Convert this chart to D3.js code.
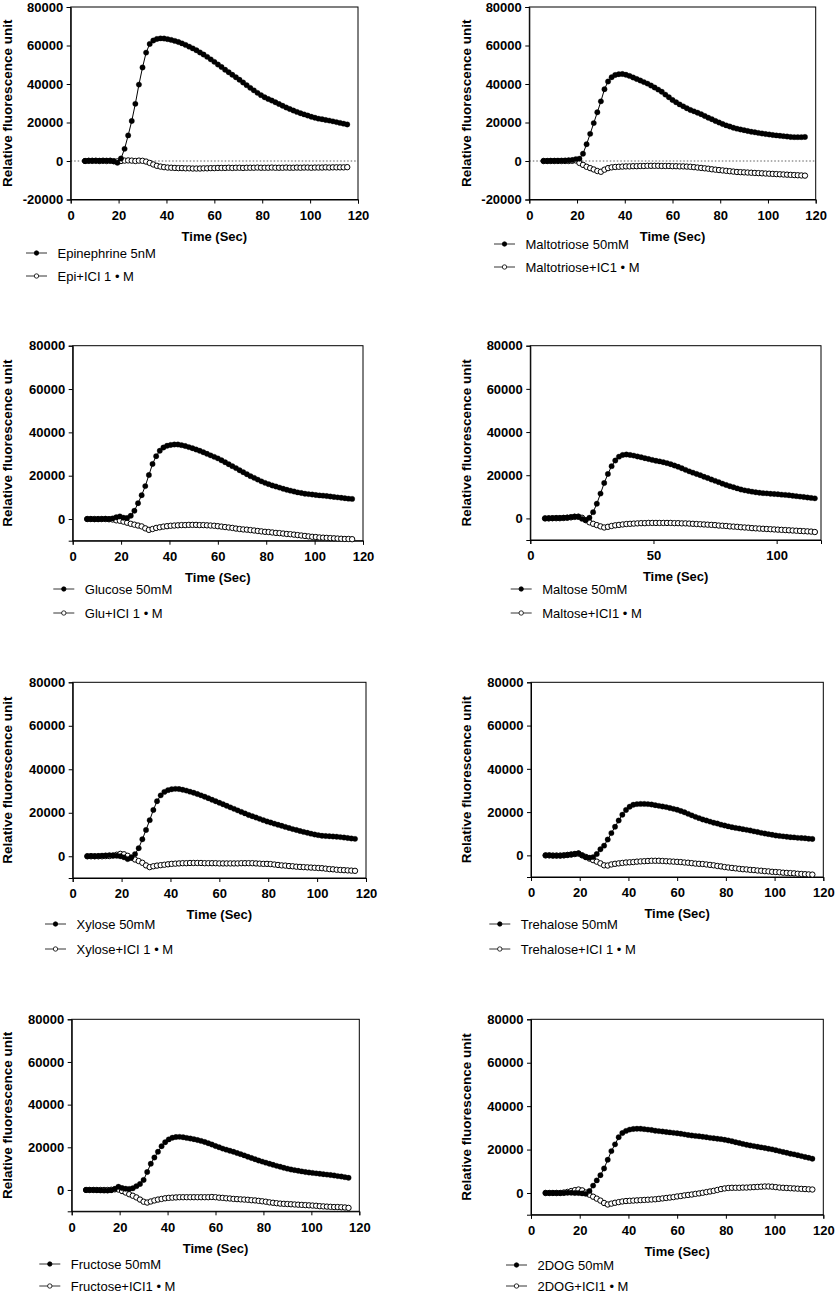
<!DOCTYPE html>
<html>
<head>
<meta charset="utf-8">
<script src="https://cdn.jsdelivr.net/npm/d3@7"></script>
<style>
  body { margin: 0; background: #fff; }
  svg { display: block; font-family: "Liberation Sans", Arial, sans-serif; }
  .tick text { font-weight: bold; font-size: 13px; fill: #000; }
  .tick line, .domain { stroke: #000; }
</style>
</head>
<body>
<svg id="chart" width="837" height="1293"></svg>
<script>
// sampling times (s), shared by every panel
const time = [
  6, 7.5, 9, 10.5, 12, 13.5, 15, 16.5, 18, 19.5,
  21, 22.5, 24, 25.5, 27, 28.5, 30, 31.5, 33, 34.5,
  36, 37.5, 39, 40.5, 42, 43.5, 45, 46.5, 48, 49.5,
  51, 52.5, 54, 55.5, 57, 58.5, 60, 61.5, 63, 64.5,
  66, 67.5, 69, 70.5, 72, 73.5, 75, 76.5, 78, 79.5,
  81, 82.5, 84, 85.5, 87, 88.5, 90, 91.5, 93, 94.5,
  96, 97.5, 99, 100.5, 102, 103.5, 105, 106.5, 108, 109.5,
  111, 112.5, 114, 115.5
];

const epinephrine = [
  0, 100, 100, 200, 100, 200, 200, 200, -200, -900,
  1300, 6300, 13300, 20800, 29700, 39700, 48600, 56300, 60800, 62600,
  63400, 63700, 63600, 63300, 62900, 62400, 61800, 61100, 60300, 59400,
  58500, 57500, 56400, 55300, 54100, 52800, 51500, 50100, 48800, 47400,
  46100, 44800, 43500, 42200, 40800, 39400, 38000, 36700, 35400, 34200,
  33100, 32200, 31400, 30500, 29600, 28700, 27800, 27000, 26200, 25500,
  24800, 24200, 23600, 23000, 22500, 22000, 21700, 21300, 21000, 20600,
  20200, 19800, 19400, 19000
];
const epiIci = [
  0, 100, 100, 100, 0, 100, 0, 100, -100, -200,
  0, 200, 300, 200, 0, 200, 100, -300, -1000, -1800,
  -2500, -2900, -3200, -3400, -3500, -3600, -3700, -3700, -3800, -3800,
  -3900, -3900, -3900, -3800, -3800, -3700, -3700, -3600, -3600, -3600,
  -3500, -3600, -3500, -3500, -3600, -3500, -3500, -3500, -3400, -3500,
  -3500, -3500, -3400, -3500, -3500, -3500, -3400, -3500, -3500, -3400,
  -3500, -3400, -3400, -3500, -3400, -3400, -3400, -3300, -3400, -3300,
  -3300, -3300, -3300, -3200
];

const maltotriose = [
  0, 0, 100, 100, 200, 200, 300, 400, 500, 1000,
  1200, 3800, 8700, 14100, 19700, 25300, 31000, 37300, 41300, 43500,
  44700, 45100, 45200, 44800, 44200, 43400, 42600, 41800, 41000, 40200,
  39200, 38200, 37100, 36000, 34500, 33100, 31700, 30500, 29400, 28400,
  27400, 26500, 25800, 25100, 24300, 23400, 22500, 21700, 20800, 20000,
  19200, 18500, 17900, 17300, 16800, 16400, 16000, 15600, 15200, 14900,
  14600, 14300, 14000, 13800, 13500, 13300, 13100, 12900, 12700, 12500,
  12400, 12400, 12400, 12500
];
const maltotrioseIci = [
  0, 0, 0, 0, 0, 0, 0, 0, 100, 300,
  -1000, -2000, -3000, -3700, -4400, -5200, -5600, -4500, -3700, -3300,
  -3100, -3000, -2900, -2800, -2800, -2700, -2700, -2600, -2600, -2500,
  -2500, -2500, -2500, -2600, -2600, -2600, -2700, -2700, -2800, -2800,
  -2900, -3000, -3200, -3400, -3600, -3800, -4000, -4300, -4500, -4700,
  -4900, -5100, -5300, -5500, -5700, -5800, -5900, -6000, -6100, -6200,
  -6300, -6400, -6500, -6600, -6700, -6800, -6900, -7000, -7100, -7200,
  -7300, -7400, -7500, -7600
];

const glucose = [
  0, 0, -100, -100, 0, 100, 0, 300, 800, 1200,
  600, 500, 1500, 3800, 7300, 11000, 15200, 20300, 25400, 29000,
  31500, 33000, 33800, 34200, 34400, 34400, 34100, 33700, 33200, 32700,
  32100, 31500, 30800, 30100, 29400, 28700, 28000, 27100, 26200, 25300,
  24400, 23500, 22500, 21600, 20700, 19800, 19000, 18200, 17400, 16700,
  16100, 15500, 15000, 14500, 14000, 13500, 13100, 12700, 12300, 12000,
  11700, 11500, 11300, 11100, 10900, 10800, 10600, 10400, 10200, 10000,
  9800, 9600, 9400, 9300
];
const glucoseIci = [
  0, 0, 0, 0, 0, 0, -100, -200, -600, -800,
  -1200, -1700, -2200, -2600, -3000, -3400, -4300, -5000, -4600, -4100,
  -3800, -3500, -3300, -3100, -3000, -2900, -2800, -2800, -2700, -2700,
  -2700, -2800, -2800, -2900, -3000, -3100, -3300, -3500, -3700, -3900,
  -4100, -4400, -4600, -4800, -4900, -5100, -5300, -5500, -5700, -5900,
  -6000, -6200, -6400, -6500, -6700, -6900, -7000, -7200, -7400, -7600,
  -7800, -8000, -8200, -8300, -8500, -8600, -8700, -8800, -8900, -9000,
  -9100, -9200, -9200, -9300
];

const maltose = [
  0, 100, 100, 200, 200, 300, 400, 600, 900, 800,
  -200, -800, 300, 2900, 6800, 11500, 16400, 20600, 24200, 26800,
  28600, 29400, 29600, 29400, 29100, 28700, 28300, 27900, 27500, 27100,
  26700, 26400, 26000, 25600, 25100, 24500, 23900, 23200, 22500, 21800,
  21200, 20600, 20000, 19300, 18700, 18000, 17400, 16800, 16100, 15500,
  14900, 14400, 13900, 13400, 13000, 12700, 12400, 12100, 11900, 11700,
  11600, 11400, 11300, 11200, 11000, 10900, 10700, 10500, 10300, 10100,
  9900, 9700, 9500, 9300
];
const maltoseIci = [
  0, 0, 100, 100, 100, 200, 300, 500, 700, 800,
  300, -800, -1800, -2500, -3100, -3700, -4200, -3900, -3500, -3200,
  -3000, -2800, -2600, -2500, -2400, -2300, -2200, -2200, -2100, -2100,
  -2100, -2100, -2100, -2100, -2100, -2200, -2200, -2300, -2300, -2400,
  -2500, -2600, -2700, -2800, -2900, -3000, -3100, -3300, -3400, -3500,
  -3700, -3800, -3900, -4100, -4200, -4300, -4500, -4600, -4700, -4800,
  -4900, -5000, -5100, -5200, -5300, -5400, -5500, -5600, -5700, -5800,
  -5900, -6000, -6100, -6300
];

const xylose = [
  0, 100, 0, 100, 300, 400, 500, 400, 200, 0,
  -500, -1300, -600, 1000, 3700, 7800, 12100, 16600, 21300, 25300,
  28000, 29600, 30400, 30800, 31000, 30900, 30600, 30200, 29700, 29200,
  28600, 28000, 27400, 26700, 26000, 25300, 24600, 23900, 23200, 22500,
  21800, 21100, 20400, 19700, 19000, 18400, 17800, 17200, 16600, 16000,
  15500, 15000, 14500, 14000, 13500, 13000, 12500, 12100, 11600, 11200,
  10800, 10400, 10000, 9700, 9400, 9300, 9200, 9100, 9000, 8800,
  8600, 8400, 8200, 8000
];
const xyloseIci = [
  0, 0, 0, 0, 0, 100, 100, 300, 700, 1100,
  900, 200, -700, -1500, -2200, -3000, -4200, -5000, -4600, -4300,
  -4100, -3900, -3700, -3500, -3400, -3300, -3200, -3200, -3100, -3100,
  -3100, -3100, -3200, -3200, -3200, -3200, -3300, -3300, -3300, -3300,
  -3300, -3300, -3200, -3200, -3200, -3200, -3300, -3400, -3500, -3500,
  -3600, -3800, -4000, -4200, -4300, -4500, -4600, -4800, -4900, -5000,
  -5100, -5200, -5300, -5400, -5500, -5700, -5900, -6000, -6200, -6300,
  -6400, -6500, -6600, -6700
];

const trehalose = [
  0, 0, -100, -100, -100, 0, 200, 400, 700, 1000,
  0, -900, -1100, -800, 600, 2800, 4500, 7300, 10300, 13200,
  16100, 18800, 21000, 22500, 23400, 23700, 23800, 23800, 23700, 23500,
  23200, 22900, 22600, 22300, 21900, 21500, 21100, 20500, 19900, 19200,
  18500, 17800, 17200, 16600, 16100, 15600, 15100, 14700, 14200, 13800,
  13400, 13000, 12700, 12400, 12100, 11800, 11500, 11100, 10800, 10400,
  10100, 9800, 9500, 9200, 9000, 8800, 8600, 8400, 8300, 8100,
  8000, 7900, 7700, 7600
];
const trehaloseIci = [
  0, 0, -100, -100, -100, 0, 200, 400, 600, 800,
  0, -700, -1500, -2200, -2900, -3700, -4600, -4700, -4200, -3900,
  -3700, -3500, -3300, -3200, -3100, -2900, -2800, -2700, -2600, -2500,
  -2500, -2500, -2600, -2700, -2800, -2900, -3000, -3100, -3300, -3400,
  -3600, -3800, -3900, -4000, -4200, -4400, -4600, -4900, -5100, -5400,
  -5600, -5800, -6000, -6200, -6400, -6500, -6700, -6800, -7000, -7100,
  -7300, -7400, -7600, -7700, -7800, -8000, -8100, -8200, -8300, -8500,
  -8600, -8700, -8800, -8900
];

const fructose = [
  0, 0, 0, -100, -200, -300, -300, -100, 500, 1500,
  900, 600, 500, 800, 1800, 2800, 4700, 8400, 12300, 15200,
  17900, 20500, 22400, 23700, 24500, 24800, 24900, 24700, 24400, 24100,
  23800, 23400, 23000, 22500, 21900, 21300, 20600, 20000, 19400, 18900,
  18400, 17900, 17300, 16800, 16200, 15600, 15000, 14400, 13800, 13300,
  12800, 12300, 11800, 11300, 10900, 10400, 10000, 9600, 9300, 9000,
  8700, 8400, 8200, 8000, 7800, 7600, 7400, 7200, 7000, 6800,
  6500, 6300, 6000, 5700
];
const fructoseIci = [
  0, 0, 0, 0, 0, 0, 0, 100, 300, 200,
  -500, -1200, -2000, -2700, -3500, -4500, -5500, -5900, -5400, -4900,
  -4500, -4200, -3900, -3700, -3600, -3500, -3400, -3400, -3400, -3400,
  -3400, -3400, -3400, -3400, -3400, -3300, -3400, -3600, -3700, -3900,
  -4000, -4200, -4300, -4400, -4500, -4600, -4800, -4900, -5100, -5300,
  -5500, -5800, -6000, -6200, -6400, -6500, -6600, -6700, -6800, -6900,
  -7000, -7100, -7200, -7300, -7400, -7600, -7700, -7800, -7900, -8000,
  -8000, -8100, -8200, -8400
];

const dog = [
  0, 0, 0, 0, 0, 0, 100, 100, 0, 0,
  -200, -400, 900, 3400, 5800, 8200, 11300, 15300, 19300, 22400,
  25700, 27600, 28600, 29200, 29500, 29600, 29600, 29400, 29200, 29000,
  28700, 28500, 28300, 28100, 27900, 27700, 27500, 27300, 27000, 26700,
  26500, 26300, 26100, 25900, 25700, 25400, 25200, 25000, 24800, 24500,
  24200, 23800, 23400, 23000, 22600, 22200, 21900, 21600, 21300, 21000,
  20700, 20400, 20100, 19700, 19300, 18900, 18500, 18100, 17800, 17400,
  17000, 16600, 16200, 15800
];
const dogIci = [
  0, 0, 0, 0, 0, 200, 500, 900, 1300, 1600,
  1200, 200, -800, -1700, -2600, -3500, -4600, -5300, -4900, -4500,
  -4200, -3900, -3700, -3600, -3500, -3400, -3300, -3200, -3100, -3000,
  -2900, -2700, -2500, -2300, -2100, -1900, -1600, -1400, -1100, -900,
  -700, -400, -200, 100, 400, 700, 1000, 1400, 1800, 2100,
  2300, 2400, 2400, 2400, 2500, 2500, 2600, 2700, 2800, 2900,
  3000, 3000, 2900, 2700, 2500, 2400, 2300, 2200, 2100, 2000,
  1900, 1800, 1700, 1600
];

// axis ticks
const xTicks120 = [0, 20, 40, 60, 80, 100, 120];
const xTicks118 = [0, 50, 100];
const yTicksWide = [-20000, 0, 20000, 40000, 60000, 80000];
const yTicksNarrow = [0, 20000, 40000, 60000, 80000];

// panel layout: plot box (left, right, top, bottom), legend placement
const panels = [
  { solid: epinephrine, open: epiIci, names: ['Epinephrine 5nM', 'Epi+ICI 1 \u2022 M'],
    L: 70.7, R: 358, T: 7, B: 199.5, xMax: 120, xTicks: xTicks120, yMin: -20000, yTicks: yTicksWide, zero: true,
    legY: [253, 276], legX: 26, titleX: 7.5 },
  { solid: maltotriose, open: maltotrioseIci, names: ['Maltotriose 50mM', 'Maltotriose+IC1 \u2022 M'],
    L: 529.3, R: 815.7, T: 7, B: 199.5, xMax: 120, xTicks: xTicks120, yMin: -20000, yTicks: yTicksWide, zero: true,
    legY: [244, 267], legX: 494, titleX: 466 },
  { solid: glucose, open: glucoseIci, names: ['Glucose 50mM', 'Glu+ICI 1 \u2022 M'],
    L: 72.7, R: 363, T: 345.7, B: 540.7, xMax: 120, xTicks: xTicks120, yMin: -10000, yTicks: yTicksNarrow, zero: false,
    legY: [589, 613], legX: 53.3, titleX: 7.5 },
  { solid: maltose, open: maltoseIci, names: ['Maltose 50mM', 'Maltose+ICI1 \u2022 M'],
    L: 530.3, R: 821, T: 345.7, B: 540, xMax: 118, xTicks: xTicks118, yMin: -10000, yTicks: yTicksNarrow, zero: false,
    legY: [589, 613], legX: 510.7, titleX: 466 },
  { solid: xylose, open: xyloseIci, names: ['Xylose 50mM', 'Xylose+ICI 1 \u2022 M'],
    L: 72.7, R: 366, T: 682.3, B: 878, xMax: 120, xTicks: xTicks120, yMin: -10000, yTicks: yTicksNarrow, zero: false,
    legY: [924, 949], legX: 45, titleX: 7.5 },
  { solid: trehalose, open: trehaloseIci, names: ['Trehalose 50mM', 'Trehalose+ICI 1 \u2022 M'],
    L: 531, R: 823.3, T: 682.3, B: 877, xMax: 120, xTicks: xTicks120, yMin: -10000, yTicks: yTicksNarrow, zero: false,
    legY: [924, 949], legX: 489.3, titleX: 466 },
  { solid: fructose, open: fructoseIci, names: ['Fructose 50mM', 'Fructose+ICI1 \u2022 M'],
    L: 71.7, R: 359.3, T: 1019.3, B: 1211.3, xMax: 120, xTicks: xTicks120, yMin: -10000, yTicks: yTicksNarrow, zero: false,
    legY: [1264, 1286], legX: 39.3, titleX: 7.5 },
  { solid: dog, open: dogIci, names: ['2DOG 50mM', '2DOG+ICI1 \u2022 M'],
    L: 531, R: 823.3, T: 1019.3, B: 1214.7, xMax: 120, xTicks: xTicks120, yMin: -10000, yTicks: yTicksNarrow, zero: false,
    legY: [1265, 1286], legX: 506, titleX: 466 }
];

const svg = d3.select('#chart');
svg.append('rect').attr('width', 837).attr('height', 1293).attr('fill', '#fff');

const markerR = 2.7;

function draw_series(g, x, y, values, filled) {
    let pts = time.map((t, i) => [t, values[i]]);
    let line = d3.line().x(d => x(d[0])).y(d => y(d[1]));
    g.append('path')
        .attr('d', line(pts))
        .attr('fill', 'none')
        .attr('stroke', '#000')
        .attr('stroke-width', 1);
    g.selectAll(null)
        .data(pts)
        .enter().append('circle')
        .attr('cx', d => x(d[0]))
        .attr('cy', d => y(d[1]))
        .attr('r', markerR)
        .attr('fill', filled ? '#000' : '#fff')
        .attr('stroke', '#000')
        .attr('stroke-width', filled ? 0.3 : 1);
}

function draw_panel(p) {
    let g = svg.append('g');
    let x = d3.scaleLinear().domain([0, p.xMax]).range([p.L, p.R]);
    let y = d3.scaleLinear().domain([p.yMin, 80000]).range([p.B, p.T]);

    // frame
    g.append('rect')
        .attr('x', p.L).attr('y', p.T)
        .attr('width', p.R - p.L).attr('height', p.B - p.T)
        .attr('fill', 'none').attr('stroke', '#000').attr('stroke-width', 1);

    if (p.zero) {
        g.append('line')
            .attr('x1', p.L).attr('x2', p.R)
            .attr('y1', y(0)).attr('y2', y(0))
            .attr('stroke', '#333').attr('stroke-width', 0.8)
            .attr('stroke-dasharray', '1.5,2');
    }

    g.append('g')
        .attr('transform', 'translate(0,' + p.B + ')')
        .call(d3.axisBottom(x).tickValues(p.xTicks).tickSize(4).tickPadding(7).tickFormat(d => String(d)));
    g.append('g')
        .attr('transform', 'translate(' + p.L + ',0)')
        .call(d3.axisLeft(y).tickValues(p.yTicks).tickSize(4).tickPadding(3.5).tickFormat(d => String(d)));

    // open series underneath, filled series on top
    draw_series(g, x, y, p.open, false);
    draw_series(g, x, y, p.solid, true);

    g.append('text')
        .attr('x', (p.L + p.R) / 2).attr('y', p.B + 36.7)
        .attr('text-anchor', 'middle').attr('dominant-baseline', 'central')
        .attr('font-weight', 'bold').attr('font-size', 13)
        .text('Time (Sec)');

    g.append('text')
        .attr('transform', 'translate(' + p.titleX + ',' + (p.T + p.B) / 2 + ') rotate(-90)')
        .attr('text-anchor', 'middle').attr('dominant-baseline', 'central')
        .attr('font-weight', 'bold').attr('font-size', 13.5)
        .text('Relative fluorescence unit');

    // legend
    p.names.forEach((name, i) => {
        let ly = p.legY[i];
        g.append('line')
            .attr('x1', p.legX).attr('x2', p.legX + 21)
            .attr('y1', ly).attr('y2', ly)
            .attr('stroke', '#000').attr('stroke-width', 0.8);
        g.append('circle')
            .attr('cx', p.legX + 10.5).attr('cy', ly).attr('r', 2.2)
            .attr('fill', i === 0 ? '#000' : '#fff')
            .attr('stroke', '#000').attr('stroke-width', 0.8);
        g.append('text')
            .attr('x', p.legX + 31.5).attr('y', ly)
            .attr('dominant-baseline', 'central')
            .attr('font-size', 13)
            .text(name);
    });
}

panels.forEach(draw_panel);
</script>
</body>
</html>
